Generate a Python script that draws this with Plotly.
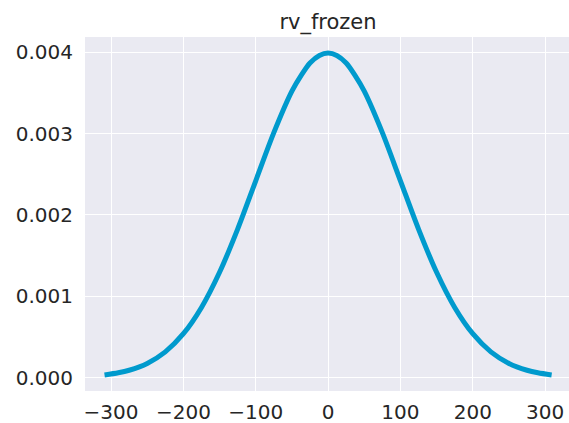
import plotly.graph_objects as go

x_vals = [-309, -290, -275, -250, -225, -200, -175, -150, -125, -100, -75, -50, -37, -25, -12, 0,
          12, 25, 37, 50, 75, 100, 125, 150, 175, 200, 225, 250, 275, 290, 309]
y_vals = [0.0000337, 0.0000597, 0.0000910, 0.000175, 0.000317, 0.000540, 0.000863,
          0.001295, 0.001826, 0.002420, 0.003011, 0.003521, 0.003718, 0.003867, 0.003960, 0.003989,
          0.003960, 0.003867, 0.003718, 0.003521, 0.003011, 0.002420, 0.001826, 0.001295, 0.000863,
          0.000540, 0.000317, 0.000175, 0.0000910, 0.0000597, 0.0000337]
x_ticks = [-300, -200, -100, 0, 100, 200, 300]
x_tick_text = ["\u2212300", "\u2212200", "\u2212100", "0", "100", "200", "300"]
y_ticks = [0.000, 0.001, 0.002, 0.003, 0.004]
y_tick_text = ["0.000", "0.001", "0.002", "0.003", "0.004"]
title = "rv_frozen"

fig = go.Figure()
fig.add_trace(go.Scatter(x=x_vals, y=y_vals, mode="lines",
                         line=dict(color="#009ACD", width=5, shape="spline", smoothing=0.8),
                         showlegend=False, hoverinfo="skip"))

fig.update_layout(
    width=569, height=423,
    margin=dict(l=85, r=0, t=37, b=32),
    paper_bgcolor="white", plot_bgcolor="#EAEAF2",
    font=dict(family="DejaVu Sans", size=20, color="#262626"),
    title=dict(text=title, x=328 / 569, xanchor="center", y=1 - 22 / 423, yanchor="middle",
               font=dict(size=21, color="#262626")),
    xaxis=dict(range=[-336, 333], tickvals=x_ticks, ticktext=x_tick_text,
               showgrid=True, gridcolor="white", gridwidth=1.2, zeroline=False,
               ticks="outside", ticklen=3, tickcolor="rgba(0,0,0,0)", showline=False),
    yaxis=dict(range=[-0.000164, 0.004187], tickvals=y_ticks, ticktext=y_tick_text,
               showgrid=True, gridcolor="white", gridwidth=1.2, zeroline=False,
               ticks="outside", ticklen=7, tickcolor="rgba(0,0,0,0)", showline=False),
)

fig.write_html("out.html")
